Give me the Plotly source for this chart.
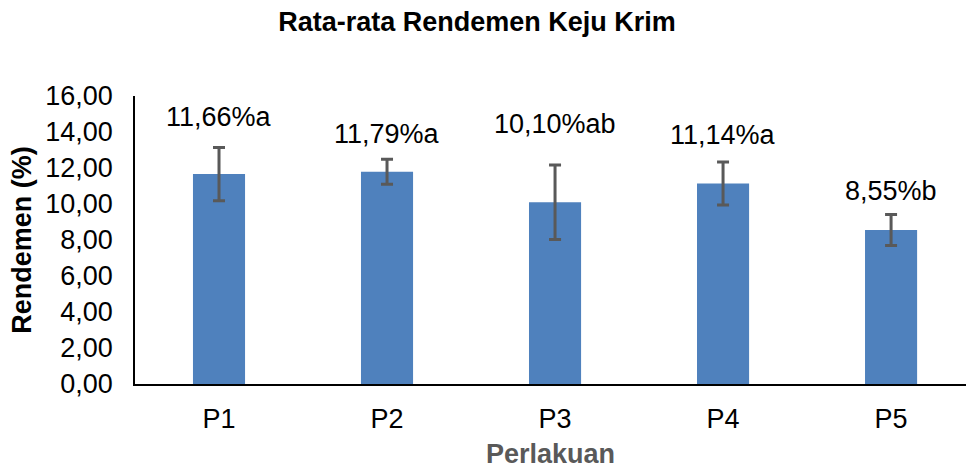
import plotly.graph_objects as go

categories = ["P1", "P2", "P3", "P4", "P5"]
means = [11.66, 11.79, 10.10, 11.14, 8.55]
errors = [1.48, 0.69, 2.07, 1.20, 0.86]
letters = ["a", "a", "ab", "a", "b"]
label_y = [14.72, 13.78, 14.33, 13.72, 10.61]

FONT = "Liberation Sans, Arial, sans-serif"
FS = 27

def fmt(v):
    return f"{v:.2f}".replace(".", ",")

fig = go.Figure()
fig.add_trace(go.Bar(
    x=categories, y=means,
    width=0.31,
    marker=dict(color="#4F81BD", line=dict(width=0)),
    error_y=dict(type="data", array=errors, visible=True,
                 color="#595959", thickness=3, width=6),
    hoverinfo="x+y",
))

for c, m, l, ly in zip(categories, means, letters, label_y):
    fig.add_annotation(x=c, y=ly, text=f"{fmt(m)}%{l}", showarrow=False,
                       xref="x", yref="y", yanchor="middle", yshift=2,
                       font=dict(family=FONT, size=FS, color="#000000"))

fig.update_layout(
    width=966, height=469,
    margin=dict(l=135, r=0, t=96, b=85),
    paper_bgcolor="white", plot_bgcolor="white",
    separators=",.",
    showlegend=False,
    font=dict(family=FONT, size=FS, color="#000000"),
    title=dict(text="<b>Rata-rata Rendemen Keju Krim</b>",
               x=477/966, xref="container", xanchor="center",
               y=1 - 22/469, yref="container", yanchor="middle",
               font=dict(family=FONT, size=FS, color="#000000")),
    xaxis=dict(
        range=[-0.5, 4.446], automargin=False,
        showline=True, linecolor="#000000", linewidth=1.5,
        showgrid=False, ticks="", ticklabelstandoff=10,
        tickfont=dict(family=FONT, size=FS, color="#000000"),
        title=dict(text="<b>Perlakuan</b>", standoff=15,
                   font=dict(family=FONT, size=FS, color="#595959")),
    ),
    yaxis=dict(
        range=[0, 16], dtick=2, tickformat=".2f", automargin=False,
        showline=True, linecolor="#000000", linewidth=1.5,
        showgrid=False, zeroline=False, ticks="", ticklabelstandoff=15,
        tickfont=dict(family=FONT, size=FS, color="#000000"),
        title=dict(text="<b>Rendemen (%)</b>", standoff=6,
                   font=dict(family=FONT, size=FS, color="#000000")),
    ),
)

fig.write_html("out.html", config={"displayModeBar": False},
               post_script="document.body.style.margin='0';document.body.style.padding='0';")
